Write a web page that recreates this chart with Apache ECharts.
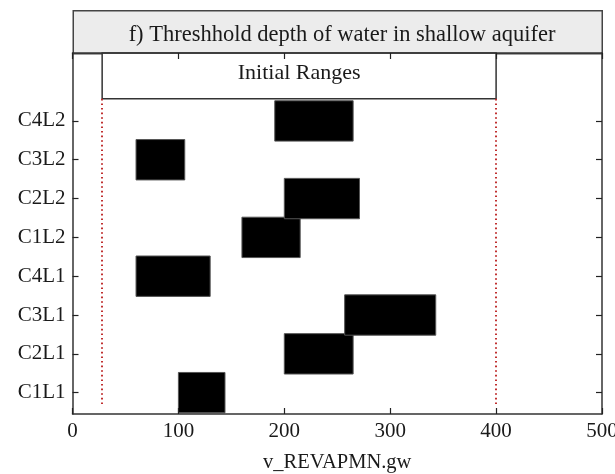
<!DOCTYPE html>
<html><head><meta charset="utf-8">
<script src="https://cdn.jsdelivr.net/npm/echarts@6/dist/echarts.min.js"></script>
<style>html,body{margin:0;padding:0;background:#fff}#c{width:615px;height:474px}</style>
</head><body><div id="c"></div>
<script>
var categories = ['C1L1','C2L1','C3L1','C4L1','C1L2','C2L2','C3L2','C4L2'];
var lowValues  = [100, 200, 257, 60, 160, 200, 60, 191];
var highValues = [144, 265, 343, 130, 215, 271, 106, 265];
var initialRange = [28, 400];
var xTicks = [0, 100, 200, 300, 400, 500];
var titleText = 'f) Threshhold depth of water in shallow aquifer';
var xName = 'v_REVAPMN.gw';
var boxLabel = 'Initial Ranges';

var FONT = '"Liberation Serif", "DejaVu Serif", serif';
var yPos = categories.map(function(c, i){ return i + 1; });
var barData = categories.map(function(c, i){ return [lowValues[i], highValues[i], i + 1]; });
var Y_MIN = 0.45, Y_MAX = 9.75, BOX_BOTTOM = 8.57, LINE_END = 0.65;
function tick(vals, inside, len){ return { show: true, inside: inside, length: len, customValues: vals, lineStyle: { color: '#222', width: 1.2 } }; }
function blankLabel(vals){ return { show: true, customValues: vals, fontSize: 10, formatter: function(){ return ''; } }; }

var chart = echarts.init(document.getElementById('c'));
chart.setOption({
  animation: false,
  backgroundColor: '#fff',
  title: {
    text: titleText, left: 337, textAlign: 'center', top: 18,
    textStyle: { fontFamily: FONT, fontSize: 22.5, fontWeight: 'normal', color: '#1a1a1a', lineHeight: 24 }
  },
  graphic: [{
    type: 'rect', left: 72.5, top: 10, z: -1,
    shape: { width: 529, height: 43 },
    style: { fill: '#ececec', stroke: '#444', lineWidth: 1.5 }
  }],
  grid: { left: 72.5, right: 13, top: 53, bottom: 60, containLabel: false, outerBoundsMode: 'none' },
  xAxis: [{
    type: 'value', position: 'bottom', min: 0, max: 500, interval: 100, z: 10,
    name: xName, nameLocation: 'middle', nameGap: 38,
    nameTextStyle: { fontFamily: FONT, fontSize: 20.5, color: '#1a1a1a' },
    axisLine: { show: true, lineStyle: { color: '#333', width: 1.5 } },
    axisTick: tick(xTicks, true, 6),
    axisLabel: { fontFamily: FONT, fontSize: 21, color: '#1a1a1a', margin: 7, customValues: xTicks },
    splitLine: { show: false }
  }, {
    type: 'value', position: 'top', min: 0, max: 500, interval: 100, z: 10,
    axisLine: { show: true, lineStyle: { color: '#333', width: 1.5 } },
    axisTick: tick(xTicks, true, 6),
    axisLabel: blankLabel(xTicks), splitLine: { show: false }
  }],
  yAxis: [{
    type: 'value', position: 'left', min: Y_MIN, max: Y_MAX, z: 10,
    axisLine: { show: true, lineStyle: { color: '#333', width: 1.5 } },
    axisTick: tick(yPos, true, 6),
    axisLabel: { fontFamily: FONT, fontSize: 21, color: '#1a1a1a', margin: 7, customValues: yPos,
      formatter: function(v){ return categories[Math.round(v) - 1] || ''; } },
    splitLine: { show: false }
  }, {
    type: 'value', position: 'right', min: Y_MIN, max: Y_MAX, z: 10,
    axisLine: { show: true, onZero: false, lineStyle: { color: '#333', width: 1.5 } },
    axisTick: tick(yPos, false, -6),
    axisLabel: blankLabel(yPos), splitLine: { show: false }
  }],
  series: [{
    type: 'custom',
    xAxisIndex: 0, yAxisIndex: 0,
    data: barData,
    renderItem: function(params, api){
      var p0 = api.coord([api.value(0), api.value(2) + 0.52]);
      var p1 = api.coord([api.value(1), api.value(2) - 0.52]);
      return { type: 'rect',
        shape: { x: p0[0], y: p0[1], width: p1[0] - p0[0], height: p1[1] - p0[1] },
        style: { fill: '#000', stroke: '#555', lineWidth: 1 } };
    },
    markArea: {
      silent: true,
      itemStyle: { color: '#fff', borderColor: '#333', borderWidth: 1.5 },
      label: { show: true, position: 'inside', offset: [0, -3], fontFamily: FONT, fontSize: 22, color: '#1a1a1a' },
      data: [[{ name: boxLabel, xAxis: initialRange[0], yAxis: BOX_BOTTOM }, { xAxis: initialRange[1], yAxis: Y_MAX }]]
    },
    markLine: {
      silent: true, symbol: 'none',
      label: { show: false },
      lineStyle: { color: '#c03030', type: [1.6, 3], width: 2 },
      data: [
        [{ coord: [initialRange[0], BOX_BOTTOM] }, { coord: [initialRange[0], LINE_END] }],
        [{ coord: [initialRange[1], BOX_BOTTOM] }, { coord: [initialRange[1], LINE_END] }]
      ]
    }
  }]
});
</script></body></html>
